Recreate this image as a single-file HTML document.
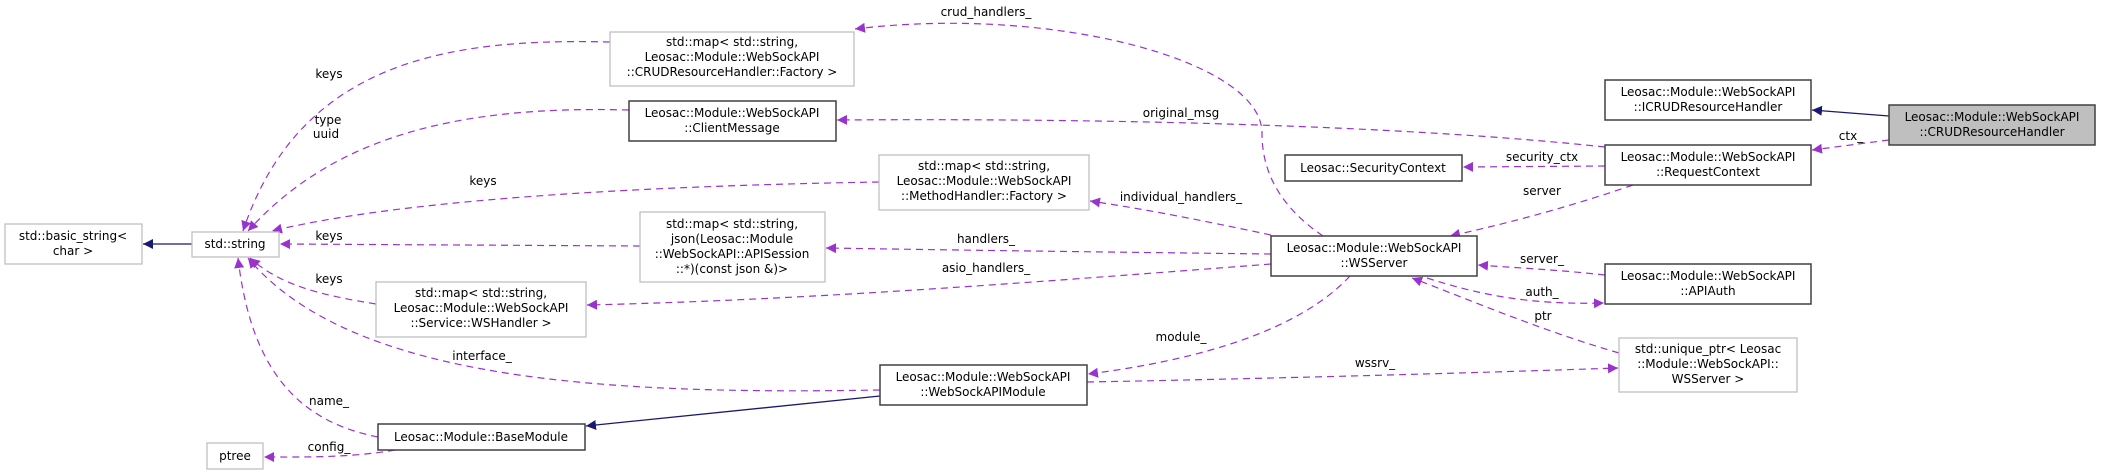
<!DOCTYPE html>
<html><head><meta charset="utf-8"><style>
html,body{margin:0;padding:0;background:#fff;}
svg{display:block;}
text{font-family:"DejaVu Sans","Liberation Sans",sans-serif;font-size:12px;fill:#000;}
.g{fill:#fff;stroke:#bfbfbf;stroke-width:1.3;}
.k{fill:#fff;stroke:#404040;stroke-width:1.5;}
.e{fill:none;stroke:#9a32cd;stroke-width:1.2;stroke-dasharray:7,5;}
.s{fill:none;stroke:#191970;stroke-width:1.3;}
</style></head><body>
<svg width="2104" height="475" viewBox="0 0 2104 475" xmlns="http://www.w3.org/2000/svg">
<defs>
<marker id="p" viewBox="0 0 10 10" refX="10" refY="5" markerWidth="10" markerHeight="10" markerUnits="userSpaceOnUse" orient="auto"><path d="M0,0L10,5L0,10z" fill="#9a32cd"/></marker>
<marker id="n" viewBox="0 0 10 10" refX="10" refY="5" markerWidth="10" markerHeight="10" markerUnits="userSpaceOnUse" orient="auto"><path d="M0,0L10,5L0,10z" fill="#191970"/></marker>
</defs>
<!-- edges -->
<path class="s" d="M192,244 L143,244" marker-end="url(#n)"/>
<path class="e" d="M610,42 C450,38 300,60 243,231" marker-end="url(#p)"/>
<path class="e" d="M629,110 C450,105 330,140 248,231" marker-end="url(#p)"/>
<path class="e" d="M879,182 C700,185 420,195 272,231" marker-end="url(#p)"/>
<path class="e" d="M640,246 L280,244" marker-end="url(#p)"/>
<path class="e" d="M376,304 C320,295 280,285 250,258" marker-end="url(#p)"/>
<path class="e" d="M880,390 C600,395 350,380 248,258" marker-end="url(#p)"/>
<path class="e" d="M378,437 C290,420 250,360 238,258" marker-end="url(#p)"/>
<path class="e" d="M395,450 C350,458 300,457 264,457" marker-end="url(#p)"/>
<path class="s" d="M880,396 L586,426" marker-end="url(#n)"/>
<path class="e" d="M1323,236 C1270,200 1262,160 1262,133 C1262,60 1050,5 855,29" marker-end="url(#p)"/>
<path class="e" d="M1605,147 C1400,125 1100,118 837,120" marker-end="url(#p)"/>
<path class="e" d="M1605,166 L1463,167" marker-end="url(#p)"/>
<path class="e" d="M1633,185 C1560,210 1500,225 1450,236" marker-end="url(#p)"/>
<path class="s" d="M1889,116 L1812,110" marker-end="url(#n)"/>
<path class="e" d="M1889,140 L1812,150" marker-end="url(#p)"/>
<path class="e" d="M1271,235 C1200,220 1150,210 1090,201" marker-end="url(#p)"/>
<path class="e" d="M1271,254 C1100,252 950,250 826,248" marker-end="url(#p)"/>
<path class="e" d="M1271,264 C1000,285 800,300 587,305" marker-end="url(#p)"/>
<path class="e" d="M1350,276 C1300,330 1200,360 1088,374" marker-end="url(#p)"/>
<path class="e" d="M1427,278 C1480,295 1530,305 1604,303" marker-end="url(#p)"/>
<path class="e" d="M1605,275 C1560,270 1520,268 1478,265" marker-end="url(#p)"/>
<path class="e" d="M1619,353 C1540,330 1470,300 1412,278" marker-end="url(#p)"/>
<path class="e" d="M1087,382 C1300,378 1500,372 1618,368" marker-end="url(#p)"/>
<!-- edge labels -->
<g text-anchor="middle">
<text x="329" y="78">keys</text>
<text x="328" y="124">type</text><text x="326" y="138">uuid</text>
<text x="483" y="185">keys</text>
<text x="329" y="240">keys</text>
<text x="329" y="283">keys</text>
<text x="482" y="360">interface_</text>
<text x="329" y="405">name_</text>
<text x="329" y="451">config_</text>
<text x="986" y="16">crud_handlers_</text>
<text x="1181" y="117">original_msg</text>
<text x="1181" y="201">individual_handlers_</text>
<text x="986" y="243">handlers_</text>
<text x="986" y="272">asio_handlers_</text>
<text x="1181" y="341">module_</text>
<text x="1375" y="367">wssrv_</text>
<text x="1851" y="140">ctx_</text>
<text x="1542" y="161">security_ctx</text>
<text x="1542" y="195">server</text>
<text x="1542" y="263">server_</text>
<text x="1542" y="296">auth_</text>
<text x="1543" y="320">ptr</text>
</g>
<!-- nodes -->
<g text-anchor="middle">
<rect class="g" x="5" y="224" width="137" height="40"/>
<text x="73" y="240">std::basic_string&lt;</text><text x="73" y="255">char &gt;</text>

<rect class="g" x="192" y="232" width="87" height="25"/>
<text x="235" y="248">std::string</text>

<rect class="g" x="610" y="32" width="244" height="54"/>
<text x="732" y="46">std::map&lt; std::string,</text><text x="732" y="61">Leosac::Module::WebSockAPI</text><text x="732" y="76">::CRUDResourceHandler::Factory &gt;</text>

<rect class="k" x="629" y="101" width="207" height="40"/>
<text x="732" y="117">Leosac::Module::WebSockAPI</text><text x="732" y="132">::ClientMessage</text>

<rect class="g" x="879" y="155" width="210" height="55"/>
<text x="984" y="170">std::map&lt; std::string,</text><text x="984" y="185">Leosac::Module::WebSockAPI</text><text x="984" y="200">::MethodHandler::Factory &gt;</text>

<rect class="g" x="640" y="212" width="185" height="70"/>
<text x="732" y="228">std::map&lt; std::string,</text><text x="732" y="243">json(Leosac::Module</text><text x="732" y="258">::WebSockAPI::APISession</text><text x="732" y="273">::*)(const json &amp;)&gt;</text>

<rect class="g" x="376" y="282" width="210" height="55"/>
<text x="481" y="297">std::map&lt; std::string,</text><text x="481" y="312">Leosac::Module::WebSockAPI</text><text x="481" y="327">::Service::WSHandler &gt;</text>

<rect class="k" x="378" y="424" width="207" height="26"/>
<text x="481" y="441">Leosac::Module::BaseModule</text>

<rect class="g" x="207" y="443" width="56" height="26"/>
<text x="235" y="460">ptree</text>

<rect class="k" x="880" y="365" width="207" height="40"/>
<text x="983" y="381">Leosac::Module::WebSockAPI</text><text x="983" y="396">::WebSockAPIModule</text>

<rect class="k" x="1271" y="236" width="206" height="40"/>
<text x="1374" y="252">Leosac::Module::WebSockAPI</text><text x="1374" y="267">::WSServer</text>

<rect class="k" x="1285" y="155" width="177" height="26"/>
<text x="1373" y="172">Leosac::SecurityContext</text>

<rect class="k" x="1605" y="80" width="206" height="40"/>
<text x="1708" y="96">Leosac::Module::WebSockAPI</text><text x="1708" y="111">::ICRUDResourceHandler</text>

<rect class="k" x="1605" y="145" width="206" height="40"/>
<text x="1708" y="161">Leosac::Module::WebSockAPI</text><text x="1708" y="176">::RequestContext</text>

<rect x="1889" y="105" width="206" height="40" fill="#bfbfbf" stroke="#404040" stroke-width="1.5"/>
<text x="1992" y="121">Leosac::Module::WebSockAPI</text><text x="1992" y="136">::CRUDResourceHandler</text>

<rect class="k" x="1605" y="264" width="206" height="40"/>
<text x="1708" y="280">Leosac::Module::WebSockAPI</text><text x="1708" y="295">::APIAuth</text>

<rect class="g" x="1619" y="338" width="178" height="54"/>
<text x="1708" y="353">std::unique_ptr&lt; Leosac</text><text x="1708" y="368">::Module::WebSockAPI::</text><text x="1708" y="383">WSServer &gt;</text>
</g>
</svg>
</body></html>
